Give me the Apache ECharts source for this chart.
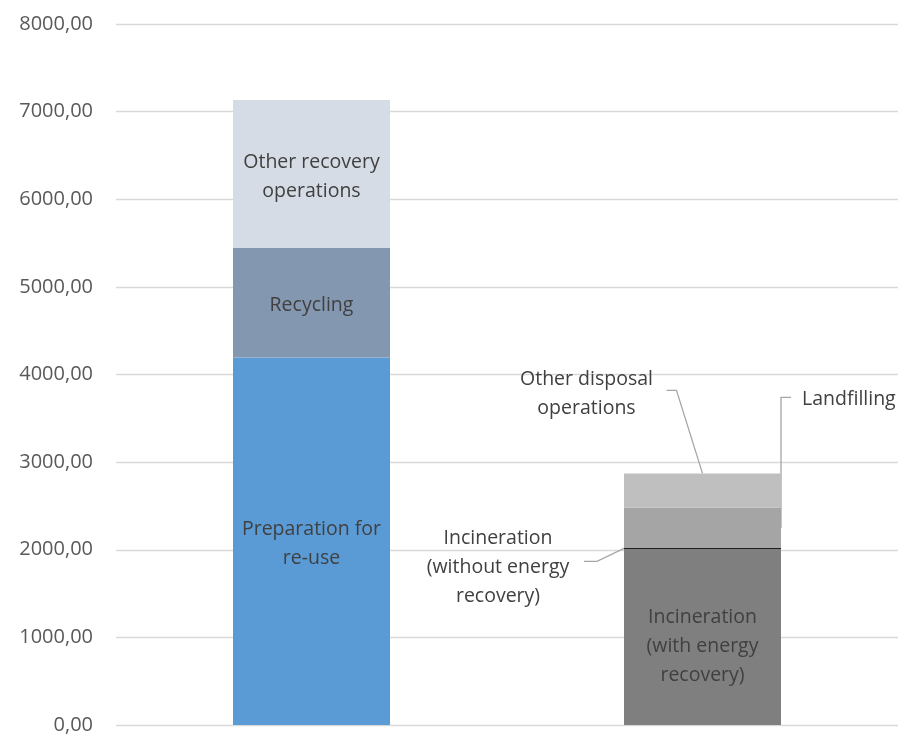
<!DOCTYPE html>
<html>
<head>
<meta charset="utf-8">
<script src="https://cdn.jsdelivr.net/npm/echarts@6/dist/echarts.min.js"></script>
<style>
  html, body { margin: 0; padding: 0; background: #fff; }
  #chart { width: 904px; height: 735px; }
</style>
</head>
<body>
<div id="chart"></div>
<script>
// Waste treatment, tonnes: recovery vs disposal
const categories = ['Recovery', 'Disposal'];

const prepReuse      = [4195, null];
const recycling      = [1250, null];
const otherRecovery  = [1687, null];
const incinWithEnergy    = [null, 2009];
const incinWithoutEnergy = [null, 12];
const landfilling        = [null, 462];
const otherDisposal      = [null, 388];

const yTicks = { min: 0, max: 8000, interval: 1000 };

const FONT = 'Open Sans';
const TEXT = '#404040';
const FS = 19.5;
const LH = 29;
const DY = 2.5; // baseline nudge for all label text

const chart = echarts.init(document.getElementById('chart'), null, { renderer: 'canvas' });

function inside(text, dy) {
  return {
    show: true, position: 'inside', formatter: text, offset: [0, dy],
    color: TEXT, fontFamily: FONT, fontSize: FS, lineHeight: LH
  };
}

function seg(name, data, color, labelText, dy) {
  return {
    name, type: 'bar', stack: 'total', data, barWidth: 157,
    itemStyle: { color },
    label: labelText ? inside(labelText, dy === undefined ? DY : dy) : { show: false },
    emphasis: { disabled: true }
  };
}

const option = {
  animation: false,
  grid: { left: 116, right: 6, top: 24, bottom: 10 },
  xAxis: {
    type: 'category', data: categories,
    axisLine: { show: false }, axisTick: { show: false }, axisLabel: { show: false }
  },
  yAxis: {
    type: 'value', min: yTicks.min, max: yTicks.max, interval: yTicks.interval,
    axisLine: { show: false }, axisTick: { show: false },
    splitLine: { lineStyle: { color: '#d9d9d9', width: 1.3 } },
    axisLabel: {
      color: '#595959', fontFamily: FONT, fontSize: 20, margin: 23,
      formatter: v => v.toFixed(2).replace('.', ',')
    }
  },
  series: [
    seg('Preparation for re-use', prepReuse, '#5B9BD5', 'Preparation for\nre-use'),
    seg('Recycling', recycling, '#8497B0', 'Recycling'),
    seg('Other recovery operations', otherRecovery, '#D6DCE5', 'Other recovery\noperations'),
    seg('Incineration (with energy recovery)', incinWithEnergy, '#7F7F7F', 'Incineration\n(with energy\nrecovery)', 9),
    seg('Incineration (without energy recovery)', incinWithoutEnergy, '#1f1f1f', null),
    seg('Landfilling', landfilling, '#A5A5A5', null),
    seg('Other disposal operations', otherDisposal, '#BFBFBF', null)
  ]
};

chart.setOption(option);

// Callout labels and leader lines for the thin disposal segments
function px(cat, val) { return chart.convertToPixel({ gridIndex: 0 }, [cat, val]); }

const cat = categories[1];
const base1 = incinWithEnergy[1];
const top2 = base1 + incinWithoutEnergy[1];
const top3 = top2 + landfilling[1];
const top4 = top3 + otherDisposal[1];
const half = 157 / 2;

const pWithout = px(cat, (base1 + top2) / 2);
const pLand = px(cat, (top2 + top3) / 2);
const pTop = px(cat, top4);
const cx = pTop[0];

const lineStyle = { stroke: '#a6a6a6', lineWidth: 1.3, fill: null };
const textStyle = (t, align) => ({
  text: t, fill: TEXT, font: FS + 'px "' + FONT + '"', lineHeight: LH,
  align, verticalAlign: 'middle'
});

chart.setOption({
  graphic: [
    { type: 'polyline', silent: true, shape: { points: [
        [cx - half, pWithout[1]], [cx - half - 27, pWithout[1] + 13], [cx - half - 40, pWithout[1] + 13]
      ] }, style: lineStyle },
    { type: 'text', silent: true, x: cx - 204.5, y: pWithout[1] + 17 + DY,
      style: textStyle('Incineration\n(without energy\nrecovery)', 'center') },

    { type: 'polyline', silent: true, shape: { points: [
        [cx + half, pLand[1]], [cx + half, pTop[1] - 76], [cx + half + 10, pTop[1] - 76]
      ] }, style: lineStyle },
    { type: 'text', silent: true, x: cx + half + 21, y: pTop[1] - 76 + DY,
      style: textStyle('Landfilling', 'left') },

    { type: 'polyline', silent: true, shape: { points: [
        [cx, pTop[1]], [cx - 26, pTop[1] - 83], [cx - 36, pTop[1] - 83]
      ] }, style: lineStyle },
    { type: 'text', silent: true, x: cx - 116, y: pTop[1] - 82 + DY,
      style: textStyle('Other disposal\noperations', 'center') }
  ]
});
</script>
</body>
</html>
